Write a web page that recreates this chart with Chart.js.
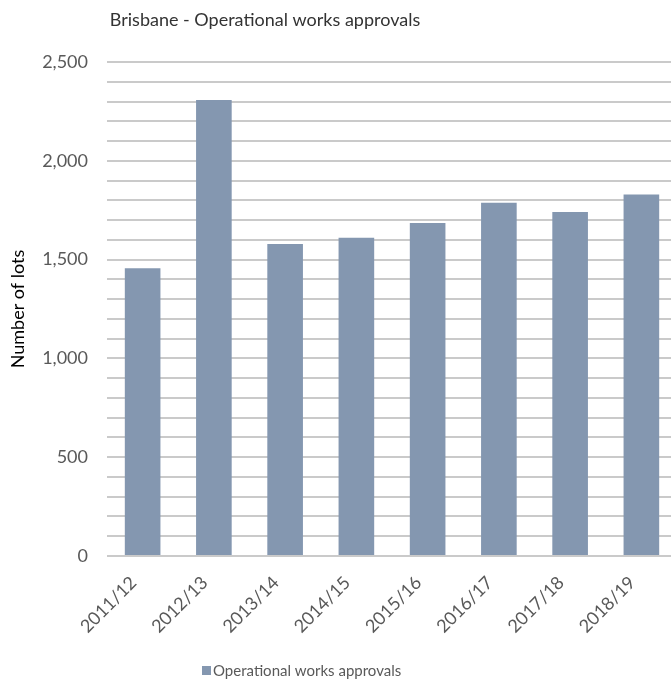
<!DOCTYPE html>
<html>
<head>
<meta charset="utf-8">
<script src="https://cdn.jsdelivr.net/npm/chart.js@4.4.0/dist/chart.umd.min.js"></script>
<style>
  html, body { margin: 0; padding: 0; background: #fff; overflow: hidden; }
  #wrap { width: 678px; height: 681px; position: relative; }
</style>
</head>
<body>
<div id="wrap"><canvas id="owChart" width="678" height="681"></canvas></div>
<script>
var years = ['2011/12', '2012/13', '2013/14', '2014/15', '2015/16', '2016/17', '2017/18', '2018/19'];
var approvals = [1456, 2308, 1579, 1611, 1685, 1788, 1741, 1830];
var seriesName = 'Operational works approvals';
var chartTitle = 'Brisbane - Operational works approvals';
var yTitle = 'Number of lots';

var FONT = 'Lato, "Liberation Sans", sans-serif';

// title + legend drawn at fixed spots, like the original workbook chart
var headerAndKey = {
    id: 'headerAndKey',
    afterDraw: function (chart) {
        var ctx = chart.ctx;
        ctx.save();
        ctx.fillStyle = '#333333';
        ctx.font = '18px ' + FONT;
        ctx.textAlign = 'center';
        ctx.textBaseline = 'middle';
        ctx.fillText(chartTitle, 265, 20);

        var ds = chart.data.datasets[0];
        ctx.fillStyle = ds.backgroundColor;
        ctx.fillRect(202, 666, 9, 9);
        ctx.fillStyle = '#595959';
        ctx.font = '15px ' + FONT;
        ctx.textAlign = 'left';
        ctx.fillText(ds.label, 213, 671);
        ctx.restore();
    }
};

var ctx = document.getElementById('owChart').getContext('2d');

window.owChart = new Chart(ctx, {
    type: 'bar',
    data: {
        labels: years,
        datasets: [{
            label: seriesName,
            data: approvals,
            backgroundColor: '#8497b0',
            borderWidth: 0,
            categoryPercentage: 0.5,
            barPercentage: 1.0
        }]
    },
    options: {
        responsive: false,
        animation: false,
        layout: { padding: { top: 62, left: 0, right: 1, bottom: 0 } },
        plugins: {
            legend: { display: false },
            title: { display: false },
            tooltip: { enabled: false }
        },
        scales: {
            x: {
                grid: { display: false, drawTicks: false },
                border: { display: false },
                ticks: {
                    autoSkip: false,
                    color: '#595959',
                    font: { family: FONT, size: 18 },
                    minRotation: 45,
                    maxRotation: 45,
                    labelOffset: -9,
                    padding: 16
                },
                afterFit: function (scale) { scale.height = 125; }
            },
            y: {
                min: 0,
                max: 2500,
                grid: { color: '#cacaca', lineWidth: 2, drawTicks: false },
                border: { display: false },
                ticks: {
                    stepSize: 100,
                    autoSkip: false,
                    color: '#595959',
                    font: { family: FONT, size: 18 },
                    padding: 19,
                    callback: function (v) {
                        return v % 500 === 0 ? v.toLocaleString('en-US') : '';
                    }
                },
                title: {
                    display: true,
                    text: yTitle,
                    color: '#000',
                    font: { family: FONT, size: 18 },
                    padding: { top: 7, bottom: 0 }
                },
                afterFit: function (scale) { scale.width = 107; }
            }
        }
    },
    plugins: [headerAndKey]
});
</script>
</body>
</html>
